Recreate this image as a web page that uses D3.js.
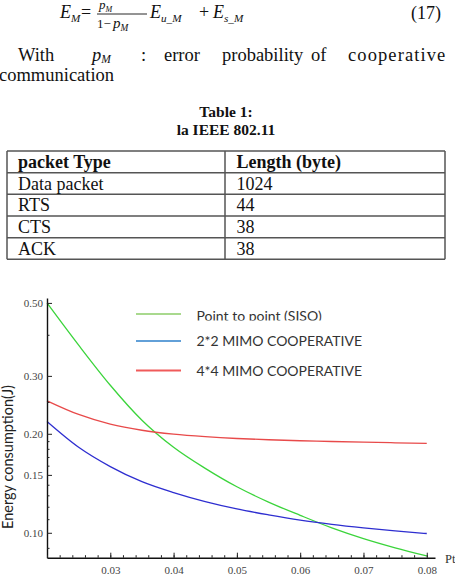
<!DOCTYPE html>
<html>
<head>
<meta charset="utf-8">
<script src="https://cdn.jsdelivr.net/npm/d3@7"></script>
<style>
  body { margin: 0; background: #fff; }
  svg { display: block; }
</style>
</head>
<body>
<div id="page"></div>
<script>
// ---- data ----
const pt = [0.020, 0.025, 0.030, 0.035, 0.040, 0.045, 0.050, 0.055, 0.060, 0.065, 0.070, 0.075, 0.080];
const siso  = [0.500, 0.372, 0.281, 0.220, 0.182, 0.157, 0.138, 0.124, 0.113, 0.1035, 0.096, 0.090, 0.085];
const mimo2 = [0.218, 0.182, 0.159, 0.143, 0.1325, 0.1244, 0.1182, 0.1134, 0.1093, 0.1061, 0.1035, 0.1013, 0.0995];
const mimo4 = [0.252, 0.229, 0.214, 0.205, 0.1995, 0.196, 0.1935, 0.1918, 0.1905, 0.1895, 0.1886, 0.1878, 0.187];
const seriesNames = ["Point to point (SISO)", "2*2 MIMO COOPERATIVE", "4*4 MIMO COOPERATIVE"];

const yMajor = [0.10, 0.15, 0.20, 0.30, 0.50];
const yMinor = [0.09, 0.11, 0.12, 0.13, 0.14, 0.16, 0.17, 0.18, 0.19, 0.25, 0.40];
const xMajor = [0.03, 0.04, 0.05, 0.06, 0.07, 0.08];
const xMinor = d3.range(0.02, 0.0801, 0.002);

const tableTitle = ["Table 1:", "la IEEE 802.11"];
const tableHeader = ["packet Type", "Length (byte)"];
const packetTypes = ["Data packet", "RTS", "CTS", "ACK"];
const packetLengths = [1024, 44, 38, 38];

const W = 455, H = 581;
const svg = d3.select("#page").append("svg").attr("width", W).attr("height", H);
const serif = "'Liberation Serif', 'Times New Roman', serif";
const sans = "Lato, 'Open Sans', sans-serif";

// ---- equation (17) ----
const eq = svg.append("g").attr("font-family", serif).attr("fill", "#111");
function mathText(x, y, main, sub, size) {
  const t = eq.append("text").attr("x", x).attr("y", y).attr("font-size", size).attr("font-style", "italic");
  t.append("tspan").text(main);
  if (sub) t.append("tspan").attr("font-size", size * 0.62).attr("dy", size * 0.2).text(sub);
  return t;
}
mathText(60, 18, "E", "M", 18);
eq.append("text").attr("x", 81).attr("y", 18).attr("font-size", 18).text("=");
mathText(99, 9, "p", "M", 13);
eq.append("line").attr("x1", 97).attr("x2", 147).attr("y1", 14).attr("y2", 14).attr("stroke", "#111").attr("stroke-width", 0.9);
eq.append("text").attr("x", 97).attr("y", 28).attr("font-size", 13).text("1−");
mathText(113, 28, "p", "M", 15);
mathText(150, 18, "E", "u_M", 18);
eq.append("text").attr("x", 199).attr("y", 18).attr("font-size", 18).text("+");
mathText(213, 18, "E", "s_M", 18);
eq.append("text").attr("x", 411).attr("y", 19).attr("font-size", 18).text("(17)");

// paragraph line
const para = svg.append("g").attr("font-family", serif).attr("font-size", 18.5).attr("fill", "#111");
[["With", 18], [":", 141], ["error", 164], ["probability", 222], ["of", 311]]
  .forEach(([w, x]) => para.append("text").attr("x", x).attr("y", 61).text(w));
para.append("text").attr("x", 348).attr("y", 61).attr("letter-spacing", 1.1).text("cooperative");
const pm = para.append("text").attr("x", 92).attr("y", 61).attr("font-style", "italic");
pm.append("tspan").text("p");
pm.append("tspan").attr("font-size", 11.5).attr("dy", 2).text("M");
para.append("text").attr("x", -1).attr("y", 81).text("communication");

// ---- table ----
const tb = svg.append("g").attr("font-family", serif).attr("fill", "#111");
tableTitle.forEach((t, i) => tb.append("text").attr("x", 226).attr("y", 117 + i * 17.5)
  .attr("text-anchor", "middle").attr("font-size", 15.5).attr("font-weight", "bold").text(t));

const tx0 = 7, tx1 = 445, tcol = 225, ty0 = 151, rowH = 21.66;
const nRows = packetTypes.length + 1;
d3.range(nRows + 1).forEach(i => tb.append("line")
  .attr("x1", tx0).attr("x2", tx1).attr("y1", ty0 + i * rowH).attr("y2", ty0 + i * rowH)
  .attr("stroke", "#555").attr("stroke-width", 1.5));
[tx0, tcol, tx1].forEach(x => tb.append("line")
  .attr("x1", x).attr("x2", x).attr("y1", ty0).attr("y2", ty0 + nRows * rowH)
  .attr("stroke", "#555").attr("stroke-width", 1.5));
tableHeader.forEach((h, j) => tb.append("text").attr("x", j ? 236.5 : 18).attr("y", ty0 + 17)
  .attr("font-size", 18).attr("font-weight", "bold").text(h));
packetTypes.forEach((p, i) => {
  const yy = ty0 + (i + 1) * rowH + 17;
  tb.append("text").attr("x", 18).attr("y", yy).attr("font-size", 18).text(p);
  tb.append("text").attr("x", 236.5).attr("y", yy).attr("font-size", 18).text(packetLengths[i]);
});

// ---- chart ----
const x = d3.scaleLinear().domain([0.02, 0.0813]).range([47, 435]);
const y = d3.scaleLog().domain([0.084, 0.5175]).range([557.7, 298]);

const ch = svg.append("g");

// curves
const colors = ["#3bd43b", "#2e2ed0", "#e84a4a"];
const legendColors = ["#a9d98e", "#62a0d8", "#f05a5a"];
const line = d3.line().x(d => x(d[0])).y(d => y(d[1])).curve(d3.curveMonotoneX);
[siso, mimo2, mimo4].forEach((s, i) => {
  ch.append("path").datum(pt.map((p, k) => [p, s[k]]))
    .attr("fill", "none").attr("stroke", colors[i]).attr("stroke-width", 1.3).attr("d", line);
});

// axes
const yAxis = ch.append("g").attr("transform", "translate(47,0)")
  .call(d3.axisLeft(y).tickValues(yMajor).tickFormat(d3.format(".2f"))
    .tickSizeInner(-5).tickSizeOuter(0).tickPadding(4));
ch.append("g").attr("transform", "translate(47,0)")
  .call(d3.axisLeft(y).tickValues(yMinor.filter(v => v > 0.084)).tickFormat("")
    .tickSizeInner(-2.5).tickSizeOuter(0))
  .call(g => g.select(".domain").remove());

const xAxis = ch.append("g").attr("transform", "translate(0,557.7)")
  .call(d3.axisBottom(x).tickValues(xMajor).tickFormat(d3.format(".2f"))
    .tickSizeInner(-5).tickSizeOuter(0).tickPadding(9));
ch.append("g").attr("transform", "translate(0,557.7)")
  .call(d3.axisBottom(x).tickValues(xMinor).tickFormat("").tickSizeInner(-2.5).tickSizeOuter(0))
  .call(g => g.select(".domain").remove());

[yAxis, xAxis].forEach(a => {
  a.attr("font-family", serif);
  a.select(".domain").attr("stroke", "#111").attr("stroke-width", 1.4);
  a.selectAll("text").attr("font-family", serif).attr("font-size", 11).attr("fill", "#444");
});
ch.selectAll(".tick line").attr("stroke", "#222");

ch.append("text").attr("x", 445).attr("y", 563).attr("font-family", serif)
  .attr("font-size", 12.5).attr("fill", "#333").text("Pt");

ch.append("text").attr("transform", "translate(12.5,457) rotate(-90)")
  .attr("text-anchor", "middle").attr("font-family", sans).attr("font-size", 14.5)
  .attr("fill", "#222").text("Energy consumption(J)");

// legend
const legendY = [314, 341, 370.5];
svg.append("clipPath").attr("id", "cut").append("rect")
  .attr("x", 0).attr("y", 0).attr("width", W).attr("height", 320.5);
seriesNames.forEach((n, i) => {
  ch.append("line").attr("x1", 136).attr("x2", 181).attr("y1", legendY[i]).attr("y2", legendY[i])
    .attr("stroke", legendColors[i]).attr("stroke-width", 1.8);
  const t = ch.append("text").attr("x", 196.5).attr("y", legendY[i] + 5)
    .attr("font-family", sans).attr("font-size", 14).attr("fill", "#333").text(n);
  if (i === 0) t.attr("clip-path", "url(#cut)").attr("y", legendY[i] + 7);
});
</script>
</body>
</html>
